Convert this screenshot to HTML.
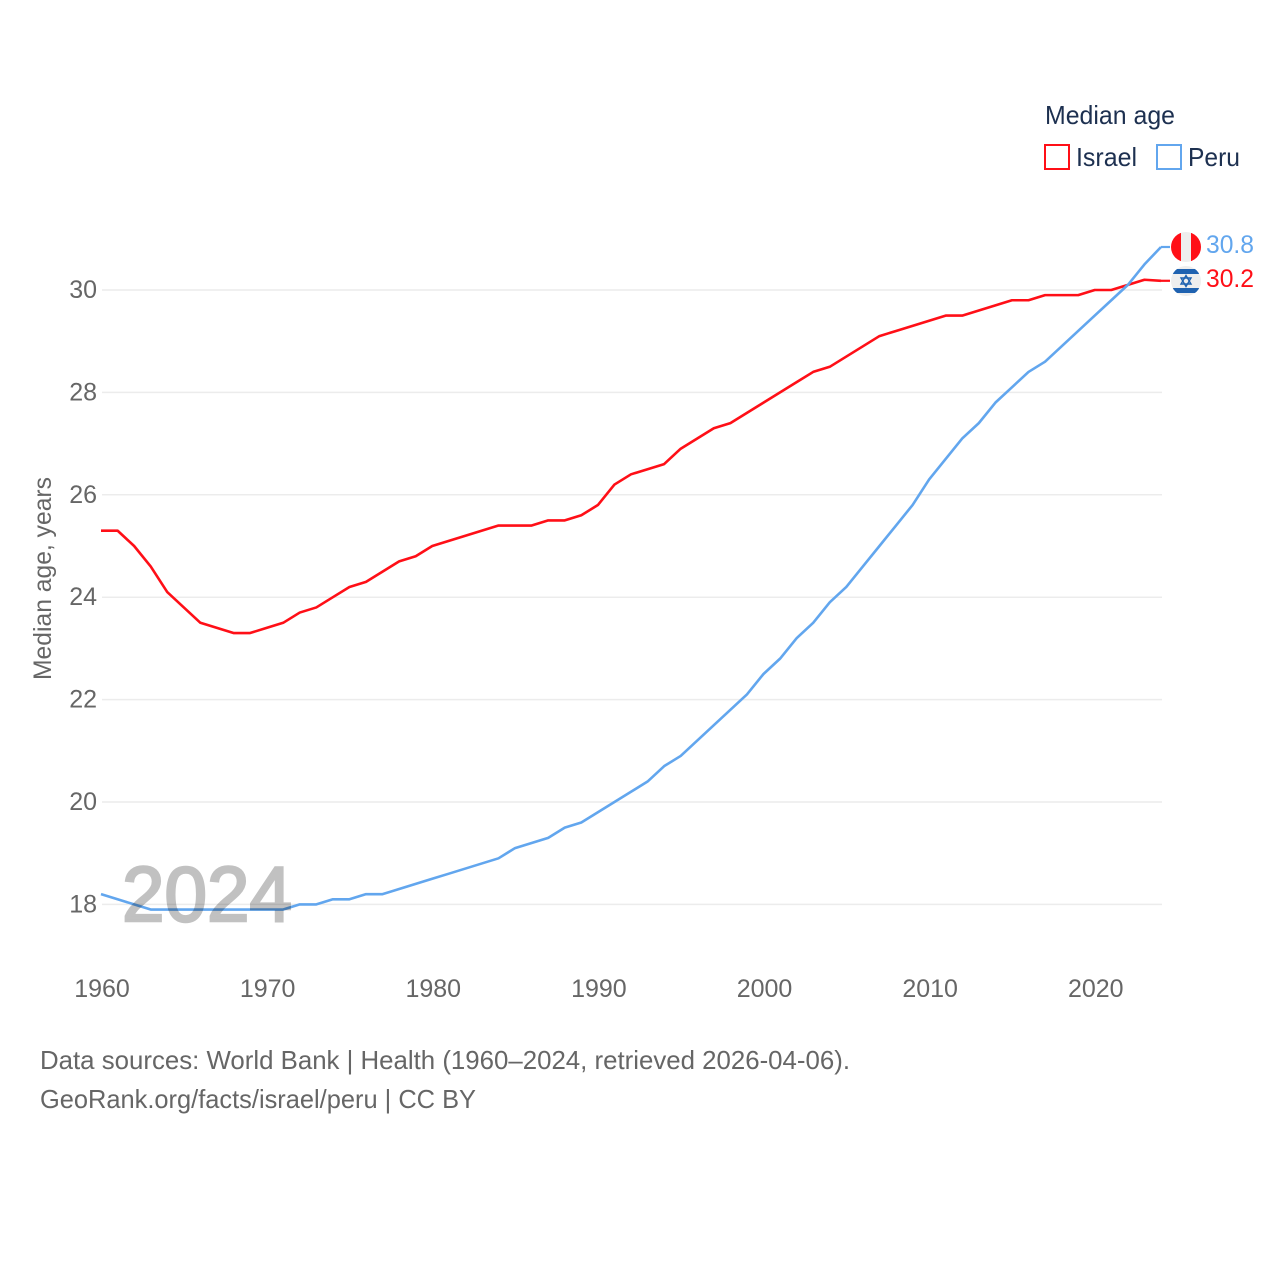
<!DOCTYPE html>
<html lang="en">
<head>
<meta charset="utf-8">
<title>Median age: Israel and Peru</title>
<style>
html,body{margin:0;padding:0;background:#fff;width:1280px;height:1280px;overflow:hidden}
svg{display:block}
text{font-family:"Liberation Sans",sans-serif}
.tick{font-size:25px;fill:#666}
.legend{font-size:26px;fill:#1d3050}
.foot{font-size:26px;fill:#666}
.val{font-size:25px}
</style>
</head>
<body>
<svg id="chart" xmlns="http://www.w3.org/2000/svg" width="1280" height="1280" viewBox="0 0 1280 1280">
  <rect x="0" y="0" width="1280" height="1280" fill="#fff"/>
  <g id="grid"></g>
  <g id="yticks"></g>
  <g id="xticks"></g>
  <g id="series"></g>
  <text x="122" y="921" font-size="78" font-weight="400" fill="#c1c1c1" stroke="#c1c1c1" stroke-width="2.5" textLength="170" lengthAdjust="spacingAndGlyphs" style="mix-blend-mode:multiply">2024</text>
  <text class="tick" transform="translate(51,680) rotate(-90)" textLength="203" lengthAdjust="spacingAndGlyphs">Median age, years</text>

  <g>
    <text class="legend" x="1045" y="124" textLength="130" lengthAdjust="spacingAndGlyphs">Median age</text>
    <rect x="1045" y="145" width="24" height="24" fill="none" stroke="#ff0f17" stroke-width="2"/>
    <text class="legend" x="1076" y="166" textLength="61" lengthAdjust="spacingAndGlyphs">Israel</text>
    <rect x="1157" y="145" width="24" height="24" fill="none" stroke="#62a6ee" stroke-width="2"/>
    <text class="legend" x="1188" y="166" textLength="52" lengthAdjust="spacingAndGlyphs">Peru</text>
  </g>

  <defs>
    <clipPath id="clip-peru"><circle cx="1186" cy="247" r="15"/></clipPath>
    <clipPath id="clip-israel"><circle cx="1186" cy="281" r="15"/></clipPath>
  </defs>
  <g clip-path="url(#clip-peru)">
    <rect x="1171" y="232" width="30" height="30" fill="#eee"/>
    <rect x="1171" y="232" width="10" height="30" fill="#ff0f17"/>
    <rect x="1191" y="232" width="10" height="30" fill="#ff0f17"/>
  </g>
  <g clip-path="url(#clip-israel)">
    <rect x="1171" y="266" width="30" height="30" fill="#eee"/>
    <rect x="1171" y="269" width="30" height="5" fill="#1f62b0"/>
    <rect x="1171" y="288" width="30" height="5" fill="#1f62b0"/>
    <polygon points="1186,275.5 1191,284 1181,284" fill="none" stroke="#1f62b0" stroke-width="1.4"/>
    <polygon points="1186,286.5 1191,278 1181,278" fill="none" stroke="#1f62b0" stroke-width="1.4"/>
  </g>
  <text class="val" x="1206" y="253" fill="#62a6ee" textLength="48" lengthAdjust="spacingAndGlyphs">30.8</text>
  <text class="val" x="1206" y="287" fill="#ff0f17" textLength="48" lengthAdjust="spacingAndGlyphs">30.2</text>

  <g>
    <text class="foot" x="40" y="1069" textLength="810" lengthAdjust="spacingAndGlyphs">Data sources: World Bank | Health (1960–2024, retrieved 2026-04-06).</text>
    <text class="foot" x="40" y="1108" textLength="436" lengthAdjust="spacingAndGlyphs">GeoRank.org/facts/israel/peru | CC BY</text>
  </g>
</svg>
<script>
const startYear = 1960;
const xTickLabels = [1960, 1970, 1980, 1990, 2000, 2010, 2020];
const yTickLabels = [18, 20, 22, 24, 26, 28, 30];
const israelValues = [25.3,25.3,25.0,24.6,24.1,23.8,23.5,23.4,23.3,23.3,23.4,23.5,23.7,23.8,24.0,24.2,24.3,24.5,24.7,24.8,25.0,25.1,25.2,25.3,25.4,25.4,25.4,25.5,25.5,25.6,25.8,26.2,26.4,26.5,26.6,26.9,27.1,27.3,27.4,27.6,27.8,28.0,28.2,28.4,28.5,28.7,28.9,29.1,29.2,29.3,29.4,29.5,29.5,29.6,29.7,29.8,29.8,29.9,29.9,29.9,30.0,30.0,30.1,30.2,30.18];
const peruValues = [18.2,18.1,18.0,17.9,17.9,17.9,17.9,17.9,17.9,17.9,17.9,17.9,18.0,18.0,18.1,18.1,18.2,18.2,18.3,18.4,18.5,18.6,18.7,18.8,18.9,19.1,19.2,19.3,19.5,19.6,19.8,20.0,20.2,20.4,20.7,20.9,21.2,21.5,21.8,22.1,22.5,22.8,23.2,23.5,23.9,24.2,24.6,25.0,25.4,25.8,26.3,26.7,27.1,27.4,27.8,28.1,28.4,28.6,28.9,29.2,29.5,29.8,30.1,30.5,30.84];

const NS = 'http://www.w3.org/2000/svg';
const xScale = year => 101 + (year - 1960) * 16.5625;
const yScale = value => 290 + (30 - value) * 51.2;

function make(tag, attrs, parent, content) {
  const el = document.createElementNS(NS, tag);
  for (const k in attrs) el.setAttribute(k, attrs[k]);
  if (content !== undefined) el.textContent = content;
  parent.appendChild(el);
  return el;
}

const gridG = document.getElementById('grid');
const yG = document.getElementById('yticks');
const xG = document.getElementById('xticks');
const seriesG = document.getElementById('series');

yTickLabels.forEach(v => {
  const line = make('line', {x1: 102, x2: 1162, y1: yScale(v), y2: yScale(v), stroke: '#ececec', 'stroke-width': 1.5}, gridG);
  
  
  const label = make('text', {x: 97, y: yScale(v) + 8, 'text-anchor': 'end', class: 'tick'}, yG, v);
  
  
});

xTickLabels.forEach(v => {
  const label = make('text', {x: xScale(v) + 1, y: 997, 'text-anchor': 'middle', class: 'tick'}, xG, v);
  
  
});

function linePoints(values) {
  return values.map((v, i) => xScale(startYear + i).toFixed(2) + ',' + yScale(v).toFixed(2)).join(' ');
}

const israelLine = make('polyline', {points: linePoints(israelValues), fill: 'none', stroke: '#ff0f17', 'stroke-width': 2.6, 'stroke-linejoin': 'round'}, seriesG);



const peruLine = make('polyline', {points: linePoints(peruValues), fill: 'none', stroke: '#62a6ee', 'stroke-width': 2.6, 'stroke-linejoin': 'round'}, seriesG);



const lastIsrael = israelValues[israelValues.length - 1];
const lastPeru = peruValues[peruValues.length - 1];
const israelLead = make('line', {x1: xScale(2024), x2: xScale(2024) + 9, y1: yScale(lastIsrael), y2: yScale(lastIsrael), stroke: '#ff0f17', 'stroke-width': 2.2}, seriesG);


const peruLead = make('line', {x1: xScale(2024), x2: xScale(2024) + 9, y1: yScale(lastPeru), y2: yScale(lastPeru), stroke: '#62a6ee', 'stroke-width': 2.2}, seriesG);


</script>
</body>
</html>
